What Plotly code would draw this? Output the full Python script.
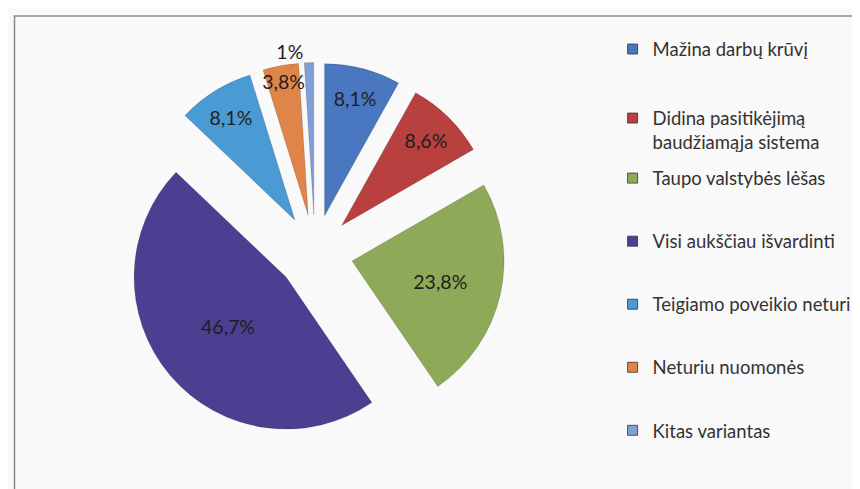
import plotly.graph_objects as go

# Slice data
labels = [
    "Mažina darbų krūvį",
    "Didina pasitikėjimą<br>baudžiamąja sistema",
    "Taupo valstybės lėšas",
    "Visi aukščiau išvardinti",
    "Teigiamo poveikio neturi",
    "Neturiu nuomonės",
    "Kitas variantas",
]
values = [8.1, 8.6, 23.8, 46.7, 8.1, 3.8, 1]
colors = ["#4a78c0", "#b8403e", "#8eaa58", "#4c3f91", "#4a9bd4", "#e0854a", "#7f9fd6"]

text = [(str(v).replace(".", ",") if v % 1 else str(int(v))) + "%" for v in values]
positions = ["inside"] * 6 + ["outside"]

fig = go.Figure()
fig.add_trace(go.Pie(
    labels=labels,
    values=values,
    text=text,
    textinfo="text",
    textposition=positions,
    insidetextorientation="horizontal",
    textfont=dict(size=19.5, color="#1e1e1e", family="Lato"),
    marker=dict(colors=colors, line=dict(color="rgba(0,0,0,0.15)", width=1)),
    pull=[0.25] * len(values),
    sort=False,
    direction="clockwise",
    rotation=0,
    showlegend=False,
    domain=dict(x=[0.136, 0.578], y=[0.1115, 0.8885]),
))

# legend entries as square markers; first two in one legend, the rest in a second
for i, (lab, col) in enumerate(zip(labels, colors)):
    fig.add_trace(go.Scatter(
        x=[None], y=[None], mode="markers", name=lab, legendgroup=lab,
        legend="legend" if i < 2 else "legend2",
        marker=dict(symbol="square", size=10, color=col, line=dict(color="#333", width=0.8)),
    ))

fig.add_shape(type="rect", xref="paper", yref="paper",
              x0=6.5 / 860, x1=1.02, y0=-0.02, y1=1 - 8 / 489,
              line=dict(color="#8a8a8a", width=1.5))

legend_style = dict(
    x=0.703, xanchor="left", yanchor="top",
    font=dict(size=18.5, color="#333", family="Lato"),
    valign="top", bgcolor="rgba(0,0,0,0)",
)

fig.update_layout(
    width=860, height=489,
    margin=dict(l=0, r=0, t=0, b=0, autoexpand=False),
    paper_bgcolor="#f9f9f9",
    plot_bgcolor="#f9f9f9",
    font=dict(family="Lato", color="#333"),
    uniformtext=dict(minsize=19.5, mode="show"),
    xaxis=dict(visible=False),
    yaxis=dict(visible=False),
    legend=dict(legend_style, y=0.954, tracegroupgap=42),
    legend2=dict(legend_style, y=0.69, tracegroupgap=36),
)

fig.write_html("out.html")
